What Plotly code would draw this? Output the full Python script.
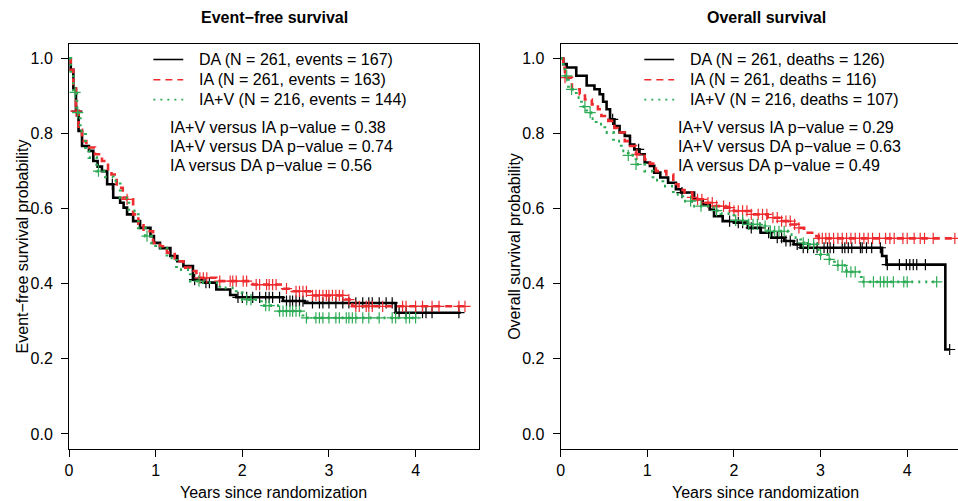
import numpy as np
import plotly.graph_objects as go

W, H = 958, 501

# ---------------- DATA ----------------
# Event-free survival
efs_da_t = [0, 0.02, 0.05, 0.08, 0.11, 0.15, 0.23, 0.28, 0.33, 0.38, 0.44, 0.51, 0.59, 0.63, 0.67, 0.74, 0.82, 0.94, 0.98,
            1.05, 1.17, 1.25, 1.32, 1.43, 1.55, 1.70, 1.86, 1.93, 2.47, 2.72, 3.77]
efs_da_s = [1.0, 0.97, 0.92, 0.86, 0.807, 0.767, 0.754, 0.727, 0.712, 0.70, 0.665, 0.629, 0.616, 0.603, 0.585, 0.567, 0.549, 0.527, 0.509,
            0.495, 0.474, 0.46, 0.447, 0.411, 0.403, 0.385, 0.370, 0.364, 0.354, 0.349, 0.323]
efs_da_end = 4.52
efs_da_cens = [0.09, 0.5, 1.45, 1.58, 1.62, 1.95, 2.0, 2.05, 2.12, 2.2, 2.27, 2.31, 2.35, 2.43, 2.51, 2.55, 2.58, 2.62, 2.66, 2.70,
               2.81, 2.89, 2.93, 3.0, 3.08, 3.16, 3.23, 3.31, 3.39, 3.46, 3.5, 3.58, 3.66, 3.73, 3.81, 3.89, 4.0, 4.08, 4.12, 4.19, 4.5]

efs_ia_t = [0, 0.02, 0.05, 0.08, 0.11, 0.15, 0.20, 0.30, 0.38, 0.45, 0.49, 0.55, 0.62, 0.67, 0.74, 0.80, 0.86, 0.97,
            1.05, 1.13, 1.22, 1.32, 1.40, 1.47, 1.50, 1.70, 2.12, 2.47, 2.58, 2.78, 3.18, 3.27]
efs_ia_s = [1.0, 0.97, 0.92, 0.86, 0.81, 0.78, 0.763, 0.745, 0.727, 0.70, 0.691, 0.656, 0.63, 0.625, 0.585, 0.56, 0.54, 0.509,
            0.50, 0.483, 0.46, 0.443, 0.434, 0.42, 0.416, 0.407, 0.398, 0.387, 0.38, 0.369, 0.358, 0.34]
efs_ia_end = 4.57
efs_ia_cens = [0.08, 0.67, 1.51, 1.55, 1.59, 1.74, 1.86, 1.89, 1.93, 2.01, 2.05, 2.16, 2.2, 2.28, 2.31, 2.35, 2.39, 2.51, 2.62, 2.66,
               2.7, 2.74, 2.81, 2.85, 2.89, 2.93, 2.97, 3.0, 3.04, 3.08, 3.12, 3.16, 3.23, 3.31, 3.35, 3.43, 3.46, 3.5, 3.62,
               3.85, 3.89, 4.0, 4.08, 4.19, 4.27, 4.5, 4.57]

efs_iav_t = [0, 0.02, 0.05, 0.09, 0.13, 0.19, 0.23, 0.32, 0.42, 0.51, 0.59, 0.69, 0.80, 0.88, 0.95, 1.0, 1.13, 1.24, 1.40,
             1.51, 1.74, 1.93, 2.0, 2.22, 2.43, 2.70]
efs_iav_s = [1.0, 0.96, 0.91, 0.856, 0.807, 0.754, 0.736, 0.70, 0.685, 0.674, 0.629, 0.594, 0.549, 0.527, 0.509, 0.495, 0.469, 0.438, 0.407,
             0.403, 0.389, 0.376, 0.358, 0.342, 0.327, 0.309]
efs_iav_end = 4.04
efs_iav_cens = [0.07, 0.1, 0.34, 0.9, 1.5, 2.05, 2.1, 2.27, 2.31, 2.43, 2.47, 2.51, 2.55, 2.58, 2.62, 2.66, 2.74, 2.85, 2.89, 2.93,
                3.0, 3.08, 3.12, 3.2, 3.23, 3.27, 3.31, 3.39, 3.46, 3.58, 3.73, 3.77, 3.89, 3.93, 4.0]

# Overall survival
os_da_t = [0, 0.03, 0.07, 0.18, 0.30, 0.39, 0.45, 0.49, 0.53, 0.57, 0.62, 0.68, 0.74, 0.80, 0.85, 0.91, 0.97, 1.03, 1.08, 1.15,
           1.24, 1.33, 1.39, 1.54, 1.64, 1.72, 1.77, 1.87, 2.0, 2.16, 2.31, 2.43, 2.58, 2.69, 2.77, 3.71, 3.76, 4.44]
os_da_s = [1.0, 0.985, 0.976, 0.954, 0.928, 0.918, 0.905, 0.885, 0.865, 0.838, 0.82, 0.803, 0.794, 0.771, 0.758, 0.745, 0.723, 0.714,
           0.696, 0.683, 0.669, 0.652, 0.643, 0.625, 0.611, 0.598, 0.58, 0.567, 0.563, 0.549, 0.536, 0.523, 0.514, 0.505, 0.496,
           0.474, 0.451, 0.225]
os_da_end = 4.49
os_da_cens = [0.6, 0.9, 1.4, 1.95, 2.05, 2.1, 2.2, 2.3, 2.4, 2.5, 2.55, 2.6, 2.65, 2.73, 2.80, 2.85, 2.92, 2.96, 3.04, 3.08, 3.11,
              3.15, 3.25, 3.28, 3.32, 3.36, 3.46, 3.48, 3.53, 3.59, 3.69, 3.77, 3.91, 3.99, 4.03, 4.07, 4.11, 4.21, 4.49]

os_ia_t = [0, 0.03, 0.05, 0.13, 0.22, 0.28, 0.36, 0.43, 0.47, 0.55, 0.62, 0.66, 0.74, 0.80, 0.87, 0.97, 1.03, 1.10, 1.22, 1.30,
           1.36, 1.43, 1.52, 1.58, 1.64, 1.77, 1.90, 2.0, 2.20, 2.39, 2.54, 2.66, 2.73, 2.81, 2.92, 2.98]
os_ia_s = [1.0, 0.975, 0.949, 0.918, 0.905, 0.891, 0.878, 0.865, 0.847, 0.834, 0.815, 0.803, 0.78, 0.767, 0.745, 0.731, 0.72, 0.70,
           0.691, 0.665, 0.65, 0.643, 0.63, 0.625, 0.616, 0.607, 0.603, 0.594, 0.585, 0.576, 0.567, 0.558, 0.549, 0.536, 0.527, 0.521]
os_ia_end = 4.57
os_ia_cens = [0.05, 0.88, 1.52, 1.58, 1.63, 1.70, 1.75, 1.80, 1.88, 1.95, 2.0, 2.05, 2.1, 2.15, 2.2, 2.28, 2.33, 2.38, 2.45, 2.5,
              2.55, 2.6, 2.65, 2.7, 2.75, 2.98, 3.02, 3.06, 3.10, 3.15, 3.2, 3.25, 3.3, 3.35, 3.4, 3.45, 3.5, 3.55, 3.6, 3.68,
              3.75, 3.8, 3.85, 3.95, 4.0, 4.08, 4.15, 4.2, 4.3, 4.55]

os_iav_t = [0, 0.03, 0.05, 0.09, 0.18, 0.24, 0.30, 0.35, 0.41, 0.51, 0.61, 0.70, 0.78, 0.87, 0.97, 1.065, 1.18, 1.30, 1.41, 1.51,
            1.70, 1.78, 1.85, 2.0, 2.16, 2.31, 2.39, 2.62, 2.69, 2.77, 2.85, 2.96, 3.0, 3.08, 3.16, 3.30, 3.47]
os_iav_s = [1.0, 0.975, 0.954, 0.918, 0.896, 0.872, 0.856, 0.84, 0.825, 0.803, 0.78, 0.754, 0.742, 0.718, 0.70, 0.676, 0.66, 0.638,
            0.62, 0.607, 0.603, 0.595, 0.587, 0.569, 0.558, 0.554, 0.54, 0.531, 0.523, 0.509, 0.505, 0.491, 0.478, 0.465, 0.449,
            0.432, 0.405]
os_iav_end = 4.34
os_iav_cens = [0.07, 0.126, 0.28, 0.34, 0.78, 0.87, 1.5, 1.62, 1.8, 2.02, 2.1, 2.17, 2.22, 2.27, 2.36, 2.42, 2.47, 2.52, 2.58,
               2.8, 2.86, 2.92, 3.0, 3.1, 3.2, 3.25, 3.3, 3.35, 3.4, 3.5, 3.61, 3.69, 3.73, 3.77, 3.84, 3.96, 4.0, 4.34]

y_ticks = [0.0, 0.2, 0.4, 0.6, 0.8, 1.0]
y_tick_labels = ["0.0", "0.2", "0.4", "0.6", "0.8", "1.0"]
x_ticks = [0, 1, 2, 3, 4]
x_tick_labels = ["0", "1", "2", "3", "4"]

efs_legend = ["DA (N = 261, events = 167)", "IA (N = 261, events = 163)", "IA+V (N = 216, events = 144)"]
os_legend = ["DA (N = 261, deaths = 126)", "IA (N = 261, deaths = 116)", "IA+V (N = 216, deaths = 107)"]
efs_pvals = ["IA+V versus IA p\u2212value = 0.38", "IA+V versus DA p\u2212value = 0.74", "IA versus DA p\u2212value = 0.56"]
os_pvals = ["IA+V versus IA p\u2212value = 0.29", "IA+V versus DA p\u2212value = 0.63", "IA versus DA p\u2212value = 0.49"]

# ---------------- STYLE ----------------
FONT = "Liberation Sans, Arial, Helvetica, sans-serif"
BLACK, RED, GREEN = "#000000", "#EE2B2F", "#2DAA55"
styles = [
    dict(color=BLACK, dash="solid", width=2.6),
    dict(color=RED, dash="7px,5px", width=2.6),
    dict(color=GREEN, dash="2px,5px", width=2.8),
]

fig = go.Figure()

def surv_at(ts, ss, t):
    idx = np.searchsorted(np.asarray(ts), np.asarray(t), side="right") - 1
    return np.asarray(ss)[idx]

def add_curve(ts, ss, end, cens, st, xa, ya):
    xs = list(ts) + [end]
    ys = list(ss) + [ss[-1]]
    fig.add_trace(go.Scatter(x=xs, y=ys, mode="lines", line=dict(color=st["color"], dash=st["dash"], width=st["width"], shape="hv"),
                             xaxis=xa, yaxis=ya, showlegend=False, hoverinfo="skip"))
    fig.add_trace(go.Scatter(x=cens, y=surv_at(ts, ss, cens), mode="markers",
                             marker=dict(symbol="cross-thin", size=8, line=dict(width=1.2, color=st["color"])),
                             xaxis=xa, yaxis=ya, showlegend=False, hoverinfo="skip"))

panels = [
    ("x", "y", [(efs_da_t, efs_da_s, efs_da_end, efs_da_cens), (efs_ia_t, efs_ia_s, efs_ia_end, efs_ia_cens),
                (efs_iav_t, efs_iav_s, efs_iav_end, efs_iav_cens)]),
    ("x2", "y2", [(os_da_t, os_da_s, os_da_end, os_da_cens), (os_ia_t, os_ia_s, os_ia_end, os_ia_cens),
                  (os_iav_t, os_iav_s, os_iav_end, os_iav_cens)]),
]
for xa, ya, curves in panels:
    for (ts, ss, end, cens), st in zip(curves, styles):
        add_curve(ts, ss, end, cens, st, xa, ya)

# ---------------- LAYOUT ----------------
ydom = [(H - 449) / H, (H - 43.5) / H]
axis_common = dict(showline=True, linecolor="black", linewidth=1, ticks="outside", ticklen=7, tickwidth=1,
                   tickcolor="black", showgrid=False, zeroline=False,
                   tickfont=dict(family=FONT, size=16, color="black"))
fig.update_layout(
    width=W, height=H, margin=dict(l=0, r=0, t=0, b=0),
    paper_bgcolor="white", plot_bgcolor="white",
    xaxis=dict(domain=[65.3 / W, 477 / W], range=[0, 4.732], tickvals=x_ticks, ticktext=x_tick_labels,
               mirror=True, anchor="y", **axis_common),
    yaxis=dict(domain=ydom, range=[-0.04, 1.04], tickvals=y_ticks, ticktext=y_tick_labels,
               mirror=True, anchor="x", ticklabelstandoff=5, **axis_common),
    xaxis2=dict(domain=[559 / W, 1.0], range=[0, (W - 559) / 87.0], tickvals=x_ticks, ticktext=x_tick_labels,
                mirror=True, anchor="y2", **axis_common),
    yaxis2=dict(domain=ydom, range=[-0.04, 1.04], tickvals=y_ticks, ticktext=y_tick_labels,
                mirror=False, anchor="x2", ticklabelstandoff=5, **axis_common),
    showlegend=False,
)

def ann(text, px, py, size=16, bold=False, xanchor="center", angle=0):
    fig.add_annotation(text=("<b>%s</b>" % text) if bold else text, x=px / W, y=1 - py / H, xref="paper", yref="paper",
                       showarrow=False, xanchor=xanchor, yanchor="middle", textangle=angle,
                       font=dict(family=FONT, size=size, color="black"), borderpad=0)

# titles and axis titles
ann("Event\u2212free survival", 271.5, 18, bold=True)
ann("Overall survival", 766, 18, bold=True)
ann("Years since randomization", 271, 492)
ann("Years since randomization", 765, 492)
ann("Event\u2212free survival probability", 18.5, 246, angle=-90)
ann("Overall survival probability", 512, 246, angle=-90)

# legends
leg_rows = [59.5, 79.7, 99.7]
pv_rows = [127.7, 146.7, 165.7]
for lx0, tx, px_, labels, pvals in [(150, 195, 166, efs_legend, efs_pvals), (643, 688, 676, os_legend, os_pvals)]:
    for ry, lab, st in zip(leg_rows, labels, styles):
        fig.add_shape(type="line", xref="paper", yref="paper", x0=lx0 / W, x1=(lx0 + 30) / W, y0=1 - ry / H, y1=1 - ry / H,
                      line=dict(color=st["color"], dash=st["dash"], width=st["width"] * 0.6))
        ann(lab, tx, ry, xanchor="left")
    for ry, pv in zip(pv_rows, pvals):
        ann(pv, px_, ry, xanchor="left")

fig.write_html("out.html", config={"displayModeBar": False},
               post_script="document.body.style.margin='0px';document.body.style.overflow='hidden';")
